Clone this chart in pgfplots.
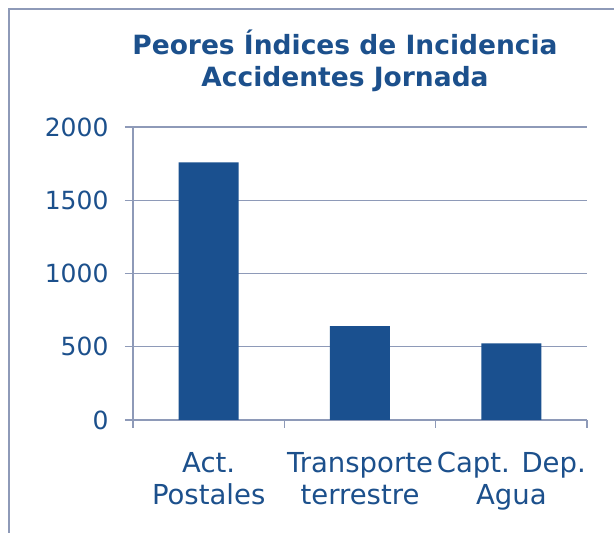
\documentclass[border=0pt]{standalone}
\usepackage{pgfplots}
\pgfplotsset{compat=1.18}
\usepackage{fontspec}
\setmainfont{DejaVu Sans}
\definecolor{barc}{RGB}{26,80,143}
\definecolor{txtc}{RGB}{28,80,140}
\definecolor{gridc}{RGB}{142,154,184}
\begin{document}
\begin{tikzpicture}[x=1pt,y=1pt]
\useasboundingbox (0,0) rectangle (614,533);
\fill[white] (0,0) rectangle (614,533);
\draw[gridc, line width=1.6pt] (9,0) -- (9,524) -- (620,524);
\begin{axis}[
  at={(133pt,113pt)}, anchor=south west,
  scale only axis, width=454pt, height=293pt,
  xmin=0.5, xmax=3.5, ymin=0, ymax=2000,
  axis lines=left,
  axis line style={-, draw=gridc, line width=1.2pt},
  ytick={0,500,1000,1500,2000},
  ymajorgrids,
  grid style={draw=gridc, line width=1.2pt},
  tick align=outside,
  major tick length=8pt,
  minor tick length=8pt,
  tick style={draw=gridc, line width=1.2pt},
  xtick={1,2,3},
  x tick style={draw=none},
  minor xtick={0.5,1.5,2.5,3.5},
  minor x tick style={draw=gridc, line width=1.2pt},
  xticklabels={{Act.\\Postales},{Transporte\\terrestre},{Capt. Dep.\\Agua}},
  xticklabel style={align=center, font=\fontsize{27.5}{31.6}\selectfont, text=txtc, anchor=north, yshift=-21pt},
  yticklabel style={font=\fontsize{25}{30}\selectfont, text=txtc, xshift=-13pt},
  /pgf/number format/assume math mode=true,
  /pgf/number format/1000 sep={},
  clip=false,
]
\addplot[ybar, bar width=60pt, fill=barc, draw=none] coordinates {(1,1759) (2,641) (3,523)};
\end{axis}
\node[anchor=base, text=txtc, font=\bfseries\fontsize{26.5}{30}\selectfont] at (345,478.7) {Peores Índices de Incidencia};
\node[anchor=base, text=txtc, font=\bfseries\fontsize{26.5}{30}\selectfont] at (345,446.3) {Accidentes Jornada};
\end{tikzpicture}
\end{document}
